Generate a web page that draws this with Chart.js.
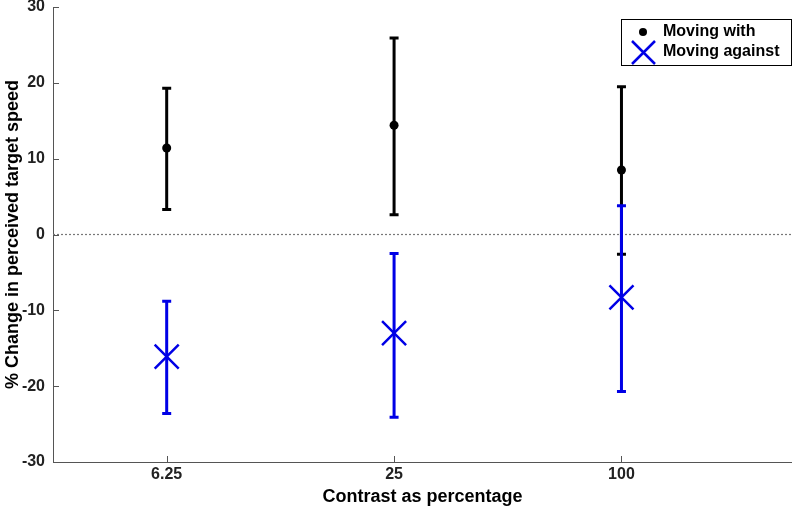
<!DOCTYPE html>
<html>
<head>
<meta charset="utf-8">
<script src="https://cdn.jsdelivr.net/npm/chart.js@4.4.0/dist/chart.umd.min.js"></script>
<style>
  html, body { margin: 0; padding: 0; background: #fff; }
  #wrap { width: 792px; height: 508px; }
</style>
</head>
<body>
<div id="wrap"><canvas id="errChart"></canvas></div>
<script>
// contrast levels (categorical, placed at 1, 2, 3)
var contrastLabels = ['6.25', '25', '100'];
var contrastPos = [1, 2, 3];

// % change in perceived target speed
var withMean = [11.4, 14.4, 8.5];
var withLow = [3.3, 2.6, -2.6];
var withHigh = [19.3, 25.9, 19.5];

var againstMean = [-16.1, -13.0, -8.3];
var againstLow = [-23.6, -24.1, -20.7];
var againstHigh = [-8.8, -2.5, 3.8];

var yTicks = [-30, -20, -10, 0, 10, 20, 30];

var FONT = 'Liberation Sans, Arial, Helvetica, sans-serif';

function pts(mean) {
    return contrastPos.map(function (x, i) { return { x: x, y: mean[i] }; });
}

// error bars, zero line, inward ticks and legend box
var extras = {
    id: 'extras',
    beforeDatasetsDraw: function (chart) {
        var c = chart.ctx, xs = chart.scales.x, ys = chart.scales.y, a = chart.chartArea;
        c.save();
        // dotted zero line
        c.strokeStyle = '#777';
        c.lineWidth = 1.2;
        c.setLineDash([2, 2]);
        c.beginPath();
        c.moveTo(a.left, ys.getPixelForValue(0));
        c.lineTo(a.right, ys.getPixelForValue(0));
        c.stroke();
        c.setLineDash([]);
        // inward ticks
        c.strokeStyle = '#555';
        c.lineWidth = 1;
        yTicks.forEach(function (v) {
            var y = Math.round(ys.getPixelForValue(v)) + 0.5;
            c.beginPath(); c.moveTo(a.left, y); c.lineTo(a.left + 6, y); c.stroke();
        });
        contrastPos.forEach(function (v) {
            var x = Math.round(xs.getPixelForValue(v)) + 0.5;
            c.beginPath(); c.moveTo(x, a.bottom); c.lineTo(x, a.bottom - 6); c.stroke();
        });
        // error bars
        var sets = [
            { low: withLow, high: withHigh, color: '#000000' },
            { low: againstLow, high: againstHigh, color: '#0000e6' }
        ];
        sets.forEach(function (s) {
            c.strokeStyle = s.color;
            c.lineWidth = 3;
            contrastPos.forEach(function (v, i) {
                var x = xs.getPixelForValue(v);
                var y1 = ys.getPixelForValue(s.low[i]);
                var y2 = ys.getPixelForValue(s.high[i]);
                c.beginPath();
                c.moveTo(x, y1); c.lineTo(x, y2);
                c.moveTo(x - 4.5, y1); c.lineTo(x + 4.5, y1);
                c.moveTo(x - 4.5, y2); c.lineTo(x + 4.5, y2);
                c.stroke();
            });
        });
        c.restore();
    },
    afterDraw: function (chart) {
        var c = chart.ctx;
        c.save();
        var bx = 621.5, by = 19.5, bw = 170, bh = 46;
        c.fillStyle = '#fff';
        c.fillRect(bx, by, bw, bh);
        c.strokeStyle = '#000';
        c.lineWidth = 1;
        c.strokeRect(bx, by, bw, bh);
        // entry 1: dot
        c.fillStyle = '#000';
        c.beginPath(); c.arc(643, 32, 4, 0, Math.PI * 2); c.fill();
        // entry 2: X
        c.strokeStyle = '#0000e6';
        c.lineWidth = 2.5;
        c.beginPath();
        c.moveTo(632, 41); c.lineTo(655, 64);
        c.moveTo(655, 41); c.lineTo(632, 64);
        c.stroke();
        c.fillStyle = '#000';
        c.font = 'bold 16px ' + FONT;
        c.textBaseline = 'middle';
        c.fillText(chart.data.datasets[0].label, 663, 32);
        c.fillText(chart.data.datasets[1].label, 663, 52);
        c.restore();
    }
};

new Chart(document.getElementById('errChart'), {
    type: 'scatter',
    data: {
        datasets: [{
            label: 'Moving with',
            data: pts(withMean),
            pointStyle: 'circle',
            pointRadius: 4.5,
            backgroundColor: '#000',
            borderColor: '#000',
            borderWidth: 0
        }, {
            label: 'Moving against',
            data: pts(againstMean),
            pointStyle: 'crossRot',
            pointRadius: 17,
            borderColor: '#0000e6',
            backgroundColor: '#0000e6',
            borderWidth: 2.5
        }]
    },
    plugins: [extras],
    options: {
        responsive: true,
        maintainAspectRatio: false,
        animation: false,
        layout: { autoPadding: false, padding: { top: 7, right: 0, left: 0, bottom: 0 } },
        plugins: {
            legend: { display: false },
            tooltip: { enabled: false }
        },
        scales: {
            x: {
                type: 'linear',
                min: 0.5,
                max: 3.75,
                afterBuildTicks: function (s) {
                    s.ticks = contrastPos.map(function (v) { return { value: v }; });
                },
                afterFit: function (s) { s.height = 46; s.paddingLeft = 0; s.paddingRight = 0; },
                grid: { display: false, drawTicks: false },
                border: { display: true, color: '#555', width: 1 },
                ticks: {
                    padding: 3,
                    color: '#222',
                    font: { family: FONT, size: 16, weight: 'bold' },
                    callback: function (v) {
                        var i = contrastPos.indexOf(v);
                        return i >= 0 ? contrastLabels[i] : '';
                    }
                },
                title: {
                    display: true,
                    text: 'Contrast as percentage',
                    color: '#000',
                    padding: { top: 0, bottom: 0 },
                    font: { family: FONT, size: 18, weight: 'bold' }
                }
            },
            y: {
                min: -30,
                max: 30,
                afterBuildTicks: function (s) {
                    s.ticks = yTicks.map(function (v) { return { value: v }; });
                },
                afterFit: function (s) { s.width = 53; s.paddingTop = 0; s.paddingBottom = 0; },
                grid: { display: false, drawTicks: false },
                border: { display: true, color: '#555', width: 1 },
                ticks: {
                    padding: 8,
                    color: '#222',
                    font: { family: FONT, size: 16, weight: 'bold' }
                },
                title: {
                    display: true,
                    text: '% Change in perceived target speed',
                    color: '#000',
                    padding: { top: 2, bottom: 0 },
                    font: { family: FONT, size: 18, weight: 'bold' }
                }
            }
        }
    }
});
</script>
</body>
</html>
